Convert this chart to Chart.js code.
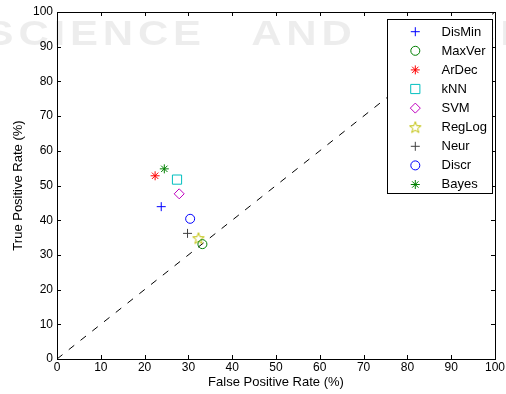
<!DOCTYPE html>
<html>
<head>
<meta charset="utf-8">
<script src="https://cdn.jsdelivr.net/npm/chart.js@4/dist/chart.umd.min.js"></script>
<style>
  html, body { margin: 0; padding: 0; background: #fff; }
  #wrap { width: 506px; height: 394px; }
</style>
</head>
<body>
<div id="wrap"><canvas id="roc"></canvas></div>
<script>
// ── data ──
const methods = ['DisMin', 'MaxVer', 'ArDec', 'kNN', 'SVM', 'RegLog', 'Neur', 'Discr', 'Bayes'];
const fpr = [23.8, 33.2, 22.4, 27.4, 27.9, 32.3, 29.8, 30.4, 24.5];
const tpr = [43.9, 33.1, 52.8, 51.7, 47.6, 34.8, 36.2, 40.4, 54.8];
const axisTicks = [0, 10, 20, 30, 40, 50, 60, 70, 80, 90, 100];
const chanceLine = [0, 100];

// ── styles (matlab default colours) ──
const markerColors = ['#0000ff', '#008000', '#ff0000', '#00bfbf', '#bf00bf', '#bfbf00', '#404040', '#0000ff', '#008000'];
const FONT = "'Liberation Sans', Arial, sans-serif";

// matlab pentagram, drawn once on a small canvas
function makePentagram(color) {
    const cv = document.createElement('canvas');
    cv.width = 14; cv.height = 14;
    const g = cv.getContext('2d');
    g.strokeStyle = color;
    g.lineWidth = 1;
    g.beginPath();
    for (let i = 0; i < 10; i++) {
        const r = i % 2 === 0 ? 6 : 2.5;
        const a = -Math.PI / 2 + i * Math.PI / 5;
        const px = 7 + r * Math.cos(a), py = 7.5 + r * Math.sin(a);
        i === 0 ? g.moveTo(px, py) : g.lineTo(px, py);
    }
    g.closePath();
    g.stroke();
    return cv;
}

const markerStyles = ['cross', 'circle', 'star', 'rect', 'rectRot', makePentagram('#bfbf00'), 'cross', 'circle', 'star'];
const markerRadius = [4.5, 4.5, 4.5, 6.5, 5, 6, 4.5, 4.5, 4.5];

const datasets = methods.map((m, i) => ({
    type: 'scatter',
    label: m,
    data: [{ x: fpr[i], y: tpr[i] }],
    pointStyle: markerStyles[i],
    pointRadius: markerRadius[i],
    pointHoverRadius: markerRadius[i],
    borderColor: markerColors[i],
    backgroundColor: 'rgba(0,0,0,0)',
    pointBorderWidth: 1,
    order: 0,
}));

datasets.push({
    type: 'line',
    label: 'chance',
    data: chanceLine.map(v => ({ x: v, y: v })),
    borderColor: '#000',
    borderWidth: 1,
    borderDash: [7, 8],
    pointRadius: 0,
    fill: false,
    order: 1,
});

// ── faint publisher watermark behind everything ──
const watermark = {
    id: 'watermark',
    beforeDraw(chart) {
        const ctx = chart.ctx;
        ctx.save();
        ctx.fillStyle = 'rgba(0,0,0,0.07)';
        ctx.font = 'bold 35px ' + FONT;
        ctx.textBaseline = 'alphabetic';
        ctx.letterSpacing = '4px';
        ctx.wordSpacing = '24px';
        ctx.scale(1.2, 1);
        ctx.fillText('SCIENCE AND TECHNOLOGY', -12, 45);
        ctx.restore();
    }
};

// ── matlab style box with inward ticks on all four sides ──
const boxTicks = {
    id: 'boxTicks',
    afterDatasetsDraw(chart) {
        const { ctx, chartArea: a, scales } = chart;
        const len = 4;
        ctx.save();
        ctx.strokeStyle = '#000';
        ctx.lineWidth = 1;
        ctx.beginPath();
        axisTicks.forEach(v => {
            const px = Math.round(scales.x.getPixelForValue(v)) + 0.5;
            ctx.moveTo(px, a.bottom); ctx.lineTo(px, a.bottom - len);
            ctx.moveTo(px, a.top); ctx.lineTo(px, a.top + len);
            const py = Math.round(scales.y.getPixelForValue(v)) + 0.5;
            ctx.moveTo(a.left, py); ctx.lineTo(a.left + len, py);
            ctx.moveTo(a.right, py); ctx.lineTo(a.right - len, py);
        });
        ctx.stroke();
        ctx.strokeRect(Math.round(a.left) + 0.5, Math.round(a.top) + 0.5,
            Math.round(a.right - a.left), Math.round(a.bottom - a.top));
        ctx.restore();
    }
};

// legend marker, same shapes as the chart points
function legendMarker(ctx, style, r, x, y) {
    ctx.beginPath();
    if (typeof style === 'object') {
        ctx.drawImage(style, x - style.width / 2, y - style.height / 2);
        return;
    }
    if (style === 'cross' || style === 'star') {
        ctx.moveTo(x - r, y); ctx.lineTo(x + r, y);
        ctx.moveTo(x, y - r); ctx.lineTo(x, y + r);
        if (style === 'star') {
            const d = r * Math.SQRT1_2;
            ctx.moveTo(x - d, y - d); ctx.lineTo(x + d, y + d);
            ctx.moveTo(x - d, y + d); ctx.lineTo(x + d, y - d);
        }
    } else if (style === 'circle') {
        ctx.arc(x, y, r, 0, Math.PI * 2);
    } else if (style === 'rect') {
        const s = r * Math.SQRT1_2;
        ctx.rect(x - s, y - s, 2 * s, 2 * s);
    } else if (style === 'rectRot') {
        ctx.moveTo(x, y - r); ctx.lineTo(x + r, y); ctx.lineTo(x, y + r); ctx.lineTo(x - r, y);
        ctx.closePath();
    }
    ctx.stroke();
}

// ── legend box in the top right corner ──
const boxLegend = {
    id: 'boxLegend',
    afterDraw(chart) {
        const ctx = chart.ctx;
        const left = 387.5, top = 19.5, w = 105, h = 174;
        const rowY = 31.5, step = 19.1;
        ctx.save();
        ctx.fillStyle = '#fff';
        ctx.fillRect(left, top, w, h);
        ctx.strokeStyle = '#000';
        ctx.lineWidth = 1;
        ctx.strokeRect(left, top, w, h);
        ctx.font = '13px ' + FONT;
        ctx.textBaseline = 'middle';
        methods.forEach((m, i) => {
            const y = rowY + i * step;
            ctx.strokeStyle = markerColors[i];
            ctx.lineWidth = 1;
            legendMarker(ctx, markerStyles[i], markerRadius[i], 415.3, y + 0.2);
            ctx.fillStyle = '#000';
            ctx.fillText(m, 441.5, y + 0.5);
        });
        ctx.restore();
    }
};

Chart.defaults.color = '#000';
Chart.defaults.font.family = FONT;

new Chart(document.getElementById('roc'), {
    data: { datasets },
    options: {
        responsive: true,
        maintainAspectRatio: false,
        animation: false,
        events: [],
        layout: { padding: { left: 0, top: 12, right: 9, bottom: 0 } },
        plugins: { legend: { display: false }, tooltip: { enabled: false } },
        scales: {
            x: {
                type: 'linear',
                min: 0, max: 100,
                afterBuildTicks: s => { s.ticks = axisTicks.map(v => ({ value: v })); },
                afterFit: s => { s.height = 35; },
                grid: { display: false, drawTicks: false },
                border: { display: false },
                ticks: { font: { size: 12 }, padding: 1, maxRotation: 0 },
                title: { display: true, text: 'False Positive Rate (%)', font: { size: 13 }, padding: { top: 0, bottom: 3.5 } },
            },
            y: {
                type: 'linear',
                min: 0, max: 100,
                afterBuildTicks: s => { s.ticks = axisTicks.map(v => ({ value: v })); },
                afterFit: s => { s.width = 57; },
                grid: { display: false, drawTicks: false },
                border: { display: false },
                ticks: { font: { size: 12 }, padding: 4 },
                title: { display: true, text: 'True Positive Rate (%)', font: { size: 13 }, padding: { top: 11, bottom: 0 } },
            },
        },
    },
    plugins: [watermark, boxTicks, boxLegend],
});
</script>
</body>
</html>
